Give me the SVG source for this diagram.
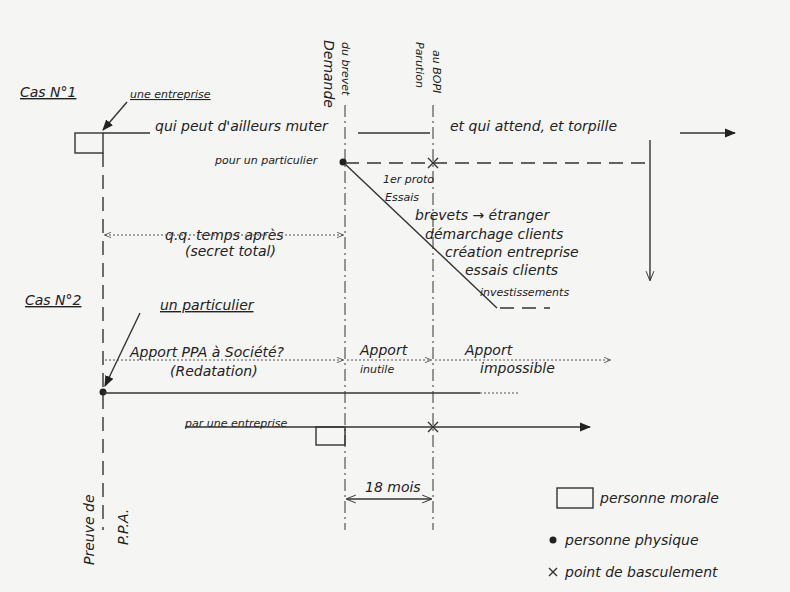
<svg xmlns="http://www.w3.org/2000/svg" width="790" height="592" viewBox="0 0 790 592">
<defs>
<marker id="ar" viewBox="0 0 10 10" refX="9" refY="5" markerWidth="8" markerHeight="8" orient="auto-start-reverse"><path d="M0,1 L10,5 L0,9 z" fill="#222"/></marker>
<marker id="ao" viewBox="0 0 10 10" refX="9" refY="5" markerWidth="7" markerHeight="7" orient="auto-start-reverse"><path d="M0,1 L10,5 L0,9" fill="none" stroke="#333"/></marker>
<style>
text{font-family:"DejaVu Sans","Liberation Sans",sans-serif;font-style:oblique;fill:#222;font-size:14px}
.s{font-size:11px}
.l{stroke:#333;stroke-width:1.4;fill:none}
.d{stroke:#333;stroke-width:1.4;fill:none;stroke-dasharray:14 8}
.dd{stroke:#333;stroke-width:1;fill:none;stroke-dasharray:12 4 2 4}
.dt{stroke:#555;stroke-width:1;fill:none;stroke-dasharray:2 2}
</style>
</defs>
<rect width="790" height="592" fill="#f5f5f3"/>
<g id="axes">
<line class="d" x1="103" y1="153" x2="103" y2="530"/>
<line class="dd" x1="345" y1="105" x2="345" y2="530"/>
<line class="dd" x1="433" y1="105" x2="433" y2="530"/>
<text transform="translate(324,40) rotate(90)">Demande</text>
<text transform="translate(342,42) rotate(90)" class="s">du brevet</text>
<text transform="translate(416,42) rotate(90)" class="s">Parution</text>
<text transform="translate(433,50) rotate(90)" class="s">au BOPI</text>
<text transform="translate(94,565) rotate(-90)">Preuve de</text>
<text transform="translate(128,545) rotate(-90)">P.P.A.</text>
</g>
<g id="cas1">
<text x="20" y="97" text-decoration="underline">Cas N°1</text>
<text x="130" y="98" class="s" text-decoration="underline">une entreprise</text>
<line class="l" x1="127" y1="102" x2="103" y2="130" marker-end="url(#ar)"/>
<rect class="l" x="75" y="133" width="28" height="20"/>
<text x="155" y="131">qui peut d'ailleurs muter</text>
<text x="450" y="131">et qui attend, et torpille</text>
<text x="215" y="164" class="s">pour un particulier</text>
<circle cx="343" cy="162" r="3.5" fill="#222"/>
<text x="383" y="183" class="s">1er proto</text>
<text x="385" y="201" class="s">Essais</text>
<text x="415" y="220">brevets → étranger</text>
<text x="425" y="239">démarchage clients</text>
<text x="445" y="257">création entreprise</text>
<text x="465" y="275">essais clients</text>
<text x="480" y="296" class="s">investissements</text>
<text x="165" y="240">q.q. temps après</text>
<text x="185" y="256">(secret total)</text>
</g>
<g id="cas2">
<text x="25" y="305" text-decoration="underline">Cas N°2</text>
<text x="160" y="310" text-decoration="underline">un particulier</text>
<line class="l" x1="140" y1="313" x2="105" y2="386" marker-end="url(#ar)"/>
<text x="130" y="357">Apport PPA à Société?</text>
<text x="170" y="376">(Redatation)</text>
<text x="360" y="355">Apport</text>
<text x="360" y="373" class="s">inutile</text>
<text x="465" y="355">Apport</text>
<text x="480" y="373">impossible</text>
<circle cx="103" cy="392" r="3.5" fill="#222"/>
<text x="185" y="427" class="s">par une entreprise</text>
<rect class="l" x="316" y="427" width="29" height="18"/>
<text x="365" y="492">18 mois</text>
</g>
<g id="connectors">
<line class="l" x1="103" y1="133" x2="150" y2="133"/>
<line class="l" x1="358" y1="133" x2="430" y2="133"/>
<line class="l" x1="680" y1="133" x2="735" y2="133" marker-end="url(#ar)"/>
<line class="d" x1="345" y1="163" x2="650" y2="163"/>
<path class="l" d="M428,158 L438,168 M438,158 L428,168"/>
<line class="l" x1="650" y1="140" x2="650" y2="280" marker-end="url(#ao)"/>
<line class="l" x1="345" y1="164" x2="497" y2="308"/>
<line class="d" x1="500" y1="308" x2="550" y2="308"/>
<line class="dt" x1="105" y1="235" x2="343" y2="235" marker-start="url(#ao)" marker-end="url(#ao)"/>
<line class="dt" x1="105" y1="360" x2="343" y2="360" marker-end="url(#ao)"/>
<line class="dt" x1="347" y1="360" x2="431" y2="360" marker-end="url(#ao)"/>
<line class="dt" x1="435" y1="360" x2="610" y2="360" marker-end="url(#ao)"/>
<line class="l" x1="103" y1="393" x2="480" y2="393"/>
<line class="dt" x1="480" y1="393" x2="520" y2="393"/>
<line class="l" x1="185" y1="427" x2="590" y2="427" marker-end="url(#ar)"/>
<path class="l" d="M428,422 L438,432 M438,422 L428,432"/>
<line class="l" x1="347" y1="499" x2="431" y2="499" marker-start="url(#ao)" marker-end="url(#ao)"/>
</g>
<g id="legend">
<rect class="l" x="557" y="488" width="36" height="20"/>
<text x="600" y="503">personne morale</text>
<circle cx="553" cy="540" r="3.5" fill="#222"/>
<text x="565" y="545">personne physique</text>
<path class="l" d="M549,568 L557,576 M557,568 L549,576"/>
<text x="565" y="577">point de basculement</text>
</g>
</svg>
